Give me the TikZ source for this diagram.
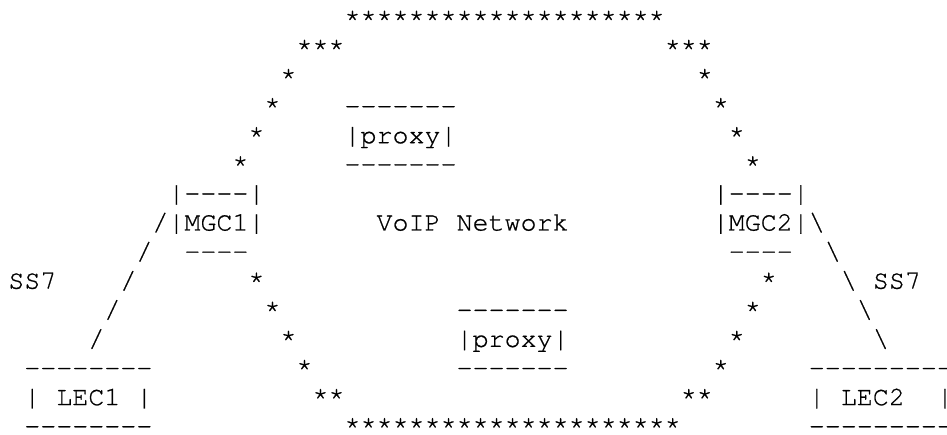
\documentclass[tikz,border=0pt]{standalone}
\usepackage{fontspec}
\setmonofont{texgyrecursor-regular.otf}[FakeBold=0.7]
\begin{document}
\begin{tikzpicture}[
  txt/.style={anchor=base west, inner sep=0pt, outer sep=0pt,
    font=\ttfamily\fontsize{26.68pt}{29pt}\selectfont}]
\useasboundingbox (0,0) rectangle (947pt,434pt);
\clip (0,0) rectangle (947pt,434pt);
\begin{scope}[shift={(8.3pt,407.2pt)}, x=16.01pt, y=-29.1pt]
% row 0
\node[txt] (topstars) at (21,0) {********************};
% row 1
\node[txt] (r1l) at (18,1) {***};
\node[txt] (r1r) at (41,1) {***};
% row 2
\node[txt] (r2l) at (17,2) {*};
\node[txt] (r2r) at (43,2) {*};
% row 3
\node[txt] (r3l) at (16,3) {*};
\node[txt] (proxyAtop) at (21,3) {-------};
\node[txt] (r3r) at (44,3) {*};
% row 4
\node[txt] (r4l) at (15,4) {*};
\node[txt] (proxyA) at (21,4) {|proxy|};
\node[txt] (r4r) at (45,4) {*};
% row 5
\node[txt] (r5l) at (14,5) {*};
\node[txt] (proxyAbot) at (21,5) {-------};
\node[txt] (r5r) at (46,5) {*};
% row 6
\node[txt] (mgcAtop) at (10,6) {|----|};
\node[txt] (mgcBtop) at (44,6) {|----|};
% row 7
\node[txt] (mgcA) at (9,7) {/|MGC1|};
\node[txt] (voip) at (23,7) {VoIP Network};
\node[txt] (mgcB) at (44,7) {|MGC2|\textbackslash};
% row 8
\node[txt] (r8s) at (8,8) {/};
\node[txt] (mgcAbot) at (11,8) {----};
\node[txt] (mgcBbot) at (45,8) {----};
\node[txt] (r8b) at (51,8) {\textbackslash};
% row 9
\node[txt] (ss7a) at (0,9) {SS7};
\node[txt] (r9s) at (7,9) {/};
\node[txt] (r9l) at (15,9) {*};
\node[txt] (r9r) at (47,9) {*};
\node[txt] (r9b) at (52,9) {\textbackslash};
\node[txt] (ss7b) at (54,9) {SS7};
% row 10
\node[txt] (r10s) at (6,10) {/};
\node[txt] (r10l) at (16,10) {*};
\node[txt] (proxyBtop) at (28,10) {-------};
\node[txt] (r10r) at (46,10) {*};
\node[txt] (r10b) at (53,10) {\textbackslash};
% row 11
\node[txt] (r11s) at (5,11) {/};
\node[txt] (r11l) at (17,11) {*};
\node[txt] (proxyB) at (28,11) {|proxy|};
\node[txt] (r11r) at (45,11) {*};
\node[txt] (r11b) at (54,11) {\textbackslash};
% row 12
\node[txt] (lecAtop) at (1,12) {--------};
\node[txt] (r12l) at (18,12) {*};
\node[txt] (proxyBbot) at (28,12) {-------};
\node[txt] (r12r) at (44,12) {*};
\node[txt] (lecBtop) at (50,12) {---------};
% row 13
\node[txt] (lecA) at (1,13) {| LEC1 |};
\node[txt] (r13l) at (19,13) {**};
\node[txt] (r13r) at (42,13) {**};
\node[txt] (lecBl) at (50,13) {|};
\node[txt] (lecB) at (52,13) {LEC2};
\node[txt] (lecBr) at (58,13) {|};
% row 14
\node[txt] (lecAbot) at (1,14) {--------};
\node[txt] (botstars) at (21,14) {*********************};
\node[txt] (lecBbot) at (50,14) {---------};
\end{scope}
\end{tikzpicture}
\end{document}
